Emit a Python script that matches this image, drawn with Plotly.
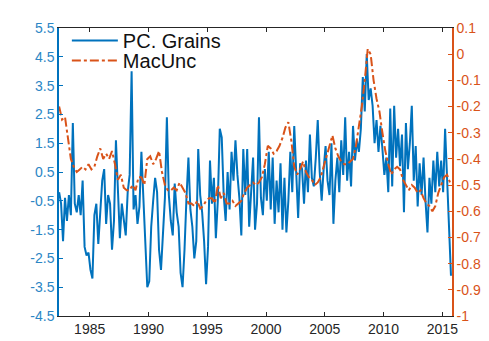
import plotly.graph_objects as go

# PC. Grains (left axis), sampled every 2 months from 1982.4
blue_start = 1982.4
blue_step = 1 / 6
pc_grains = [
    -0.2, -0.6, -1.9, -0.4, -1.2, -0.3,
    -1.0, 2.2, -0.6, -0.9, -0.3, -1.0,
    0.2, -2.1, -2.4, -2.3, -2.9, -3.2,
    -1.0, -0.6, -2.0, -0.8, 0.2, 0.6,
    -1.3, -0.3, -0.6, -2.2, -1.2, 1.6,
    -0.5, -1.8, -0.6, -1.2, -1.7, -0.2,
    0.4, 4.0, -0.8, -0.3, -1.3, -0.7,
    1.2, -0.4, -1.8, -3.5, -3.3, -1.4,
    -0.5, 0.3, -0.2, -2.2, -2.9, -1.6,
    -0.4, 2.4, -0.3, -1.2, -1.7, 0.1,
    -0.9, -1.4, -3.0, -3.5, -2.2, -0.4,
    1.0, -0.8, -1.4, -2.5, -1.9, 1.3,
    -0.3, -0.9, -1.9, -3.4, -2.1, 0.9,
    -0.6, 0.3, -1.8, -0.5, 2.0, 1.7,
    -0.3, -1.2, 0.5, -0.8, 1.2, 0.2,
    1.6, 0.4, -0.4, -1.7, 1.3, -0.3,
    1.3, -1.4, -0.3, 1.0, -1.5, -0.6,
    2.4, -0.4, -1.0, 0.6, -0.5, 1.2,
    -0.8, 1.0, -1.3, 0.2, -0.9, 0.8,
    -1.5, 0.3, -1.6, -0.5, 1.2, -0.2,
    2.1, 0.4, -1.1, 0.8, 0.6, -0.6,
    0.9, -0.2, 1.8, 0.3, 0.0, 1.0,
    2.3, 0.5, -0.5, 0.6, 1.4, 0.2,
    -0.3, 1.5, -1.3, 0.2, 1.0, -0.2,
    1.6, 0.4, 2.4, 0.2, 1.2, 0.0,
    2.1, 0.9, 1.6, 1.2, 2.0, 3.8,
    2.6, 4.6, 3.0, 3.4, 2.8, 1.5,
    2.3, 1.2, 2.1, 1.3, 0.4, 1.0,
    -0.2, 2.7, 0.0, 2.8, 1.0, 2.0,
    0.7, 1.8, -0.9, 2.2, 0.6, 1.5,
    2.8, 0.2, 1.4, -0.7, 0.8, -0.3,
    1.0, -0.5, -1.6, 0.3, -0.6, 0.9,
    -0.2, 1.2, 0.0, 0.9, -0.2, 2.0,
    0.3, -1.1, -3.1,
]

# MacUnc (right axis), sampled quarterly from 1982.4
orange_start = 1982.4
orange_step = 0.25
mac_unc = [
    -0.20, -0.25, -0.24, -0.33,
    -0.40, -0.43, -0.45, -0.44,
    -0.43, -0.44, -0.42, -0.44,
    -0.43, -0.39, -0.36, -0.40,
    -0.38, -0.40, -0.37, -0.42,
    -0.48, -0.46, -0.51, -0.52,
    -0.52, -0.50, -0.52, -0.47,
    -0.47, -0.50, -0.40, -0.39,
    -0.42, -0.40, -0.37, -0.45,
    -0.50, -0.52, -0.52, -0.51,
    -0.52, -0.49, -0.51, -0.53,
    -0.57, -0.57, -0.58, -0.56,
    -0.59, -0.58, -0.56, -0.55,
    -0.55, -0.57, -0.50, -0.55,
    -0.53, -0.57, -0.57, -0.56,
    -0.58, -0.57, -0.56, -0.53,
    -0.51, -0.50, -0.49, -0.50,
    -0.49, -0.47, -0.42, -0.35,
    -0.36, -0.38, -0.37, -0.35,
    -0.32, -0.28, -0.26, -0.33,
    -0.43, -0.46, -0.44, -0.41,
    -0.45, -0.47, -0.48, -0.50,
    -0.49, -0.47, -0.43, -0.38,
    -0.34, -0.31, -0.36, -0.39,
    -0.41, -0.42, -0.42, -0.41,
    -0.40, -0.35, -0.28, -0.20,
    -0.10, 0.02, 0.00, -0.10,
    -0.17, -0.22, -0.30, -0.37,
    -0.42, -0.46, -0.44, -0.43,
    -0.44, -0.48, -0.50, -0.52,
    -0.50, -0.51, -0.53, -0.52,
    -0.55, -0.57, -0.58, -0.60,
    -0.58, -0.53, -0.50, -0.47,
    -0.46, -0.49,
]

x_ticks = [1985, 1990, 1995, 2000, 2005, 2010, 2015]
left_ticks = [-4.5, -3.5, -2.5, -1.5, -0.5, 0.5, 1.5, 2.5, 3.5, 4.5, 5.5]
right_ticks = [-1, -0.9, -0.8, -0.7, -0.6, -0.5, -0.4, -0.3, -0.2, -0.1, 0, 0.1]
right_labels = ["-1", "-0.9", "-0.8", "-0.7", "-0.6", "-0.5", "-0.4", "-0.3", "-0.2", "-0.1", "0", "0.1"]

t_blue = [blue_start + i * blue_step for i in range(len(pc_grains))]
t_orange = [orange_start + i * orange_step for i in range(len(mac_unc))]

BLUE = "#0072BD"
ORANGE = "#D95319"
DARK = "#262626"
FONT = "Liberation Sans, Arial, sans-serif"

fig = go.Figure()
fig.add_trace(go.Scatter(x=t_blue, y=pc_grains, mode="lines", name="PC. Grains",
                         line=dict(color=BLUE, width=2), yaxis="y", legend="legend"))
fig.add_trace(go.Scatter(x=t_orange, y=mac_unc, mode="lines", name="MacUnc",
                         line=dict(color=ORANGE, width=2, dash="dashdot"), yaxis="y2",
                         legend="legend2"))

leg_common = dict(xanchor="left", yanchor="middle",
                  bgcolor="rgba(0,0,0,0)", borderwidth=0,
                  font=dict(size=20, color="#111111"), itemwidth=46)

fig.update_layout(
    width=489, height=341,
    margin=dict(l=51, r=45, t=15, b=25),
    paper_bgcolor="white", plot_bgcolor="white",
    font=dict(family=FONT, size=14, color=DARK),
    showlegend=True,
    legend=dict(x=0.02, y=0.957, **leg_common),
    legend2=dict(x=0.02, y=0.887, **leg_common),
    xaxis=dict(range=[1982.39, 2015.82], tickvals=x_ticks,
               ticks="inside", ticklen=4, tickcolor=DARK,
               showline=True, linecolor=DARK, linewidth=1, mirror="ticks",
               showgrid=False, zeroline=False,
               tickfont=dict(size=14, color=DARK)),
    yaxis=dict(range=[-4.5, 5.5], tickvals=left_ticks,
               ticktext=[f"{v:g}" for v in left_ticks],
               ticks="inside", ticklen=4, tickcolor=BLUE,
               showline=True, linecolor=BLUE, linewidth=1.5,
               showgrid=False, zeroline=False,
               tickfont=dict(size=14, color="#2b86c5")),
    yaxis2=dict(range=[-1, 0.1], tickvals=right_ticks, ticktext=right_labels,
                overlaying="y", side="right",
                ticks="inside", ticklen=4, tickcolor=ORANGE,
                showline=True, linecolor=ORANGE, linewidth=1.5,
                showgrid=False, zeroline=False,
                tickfont=dict(size=14, color=ORANGE)),
)

fig.write_html("out.html")
